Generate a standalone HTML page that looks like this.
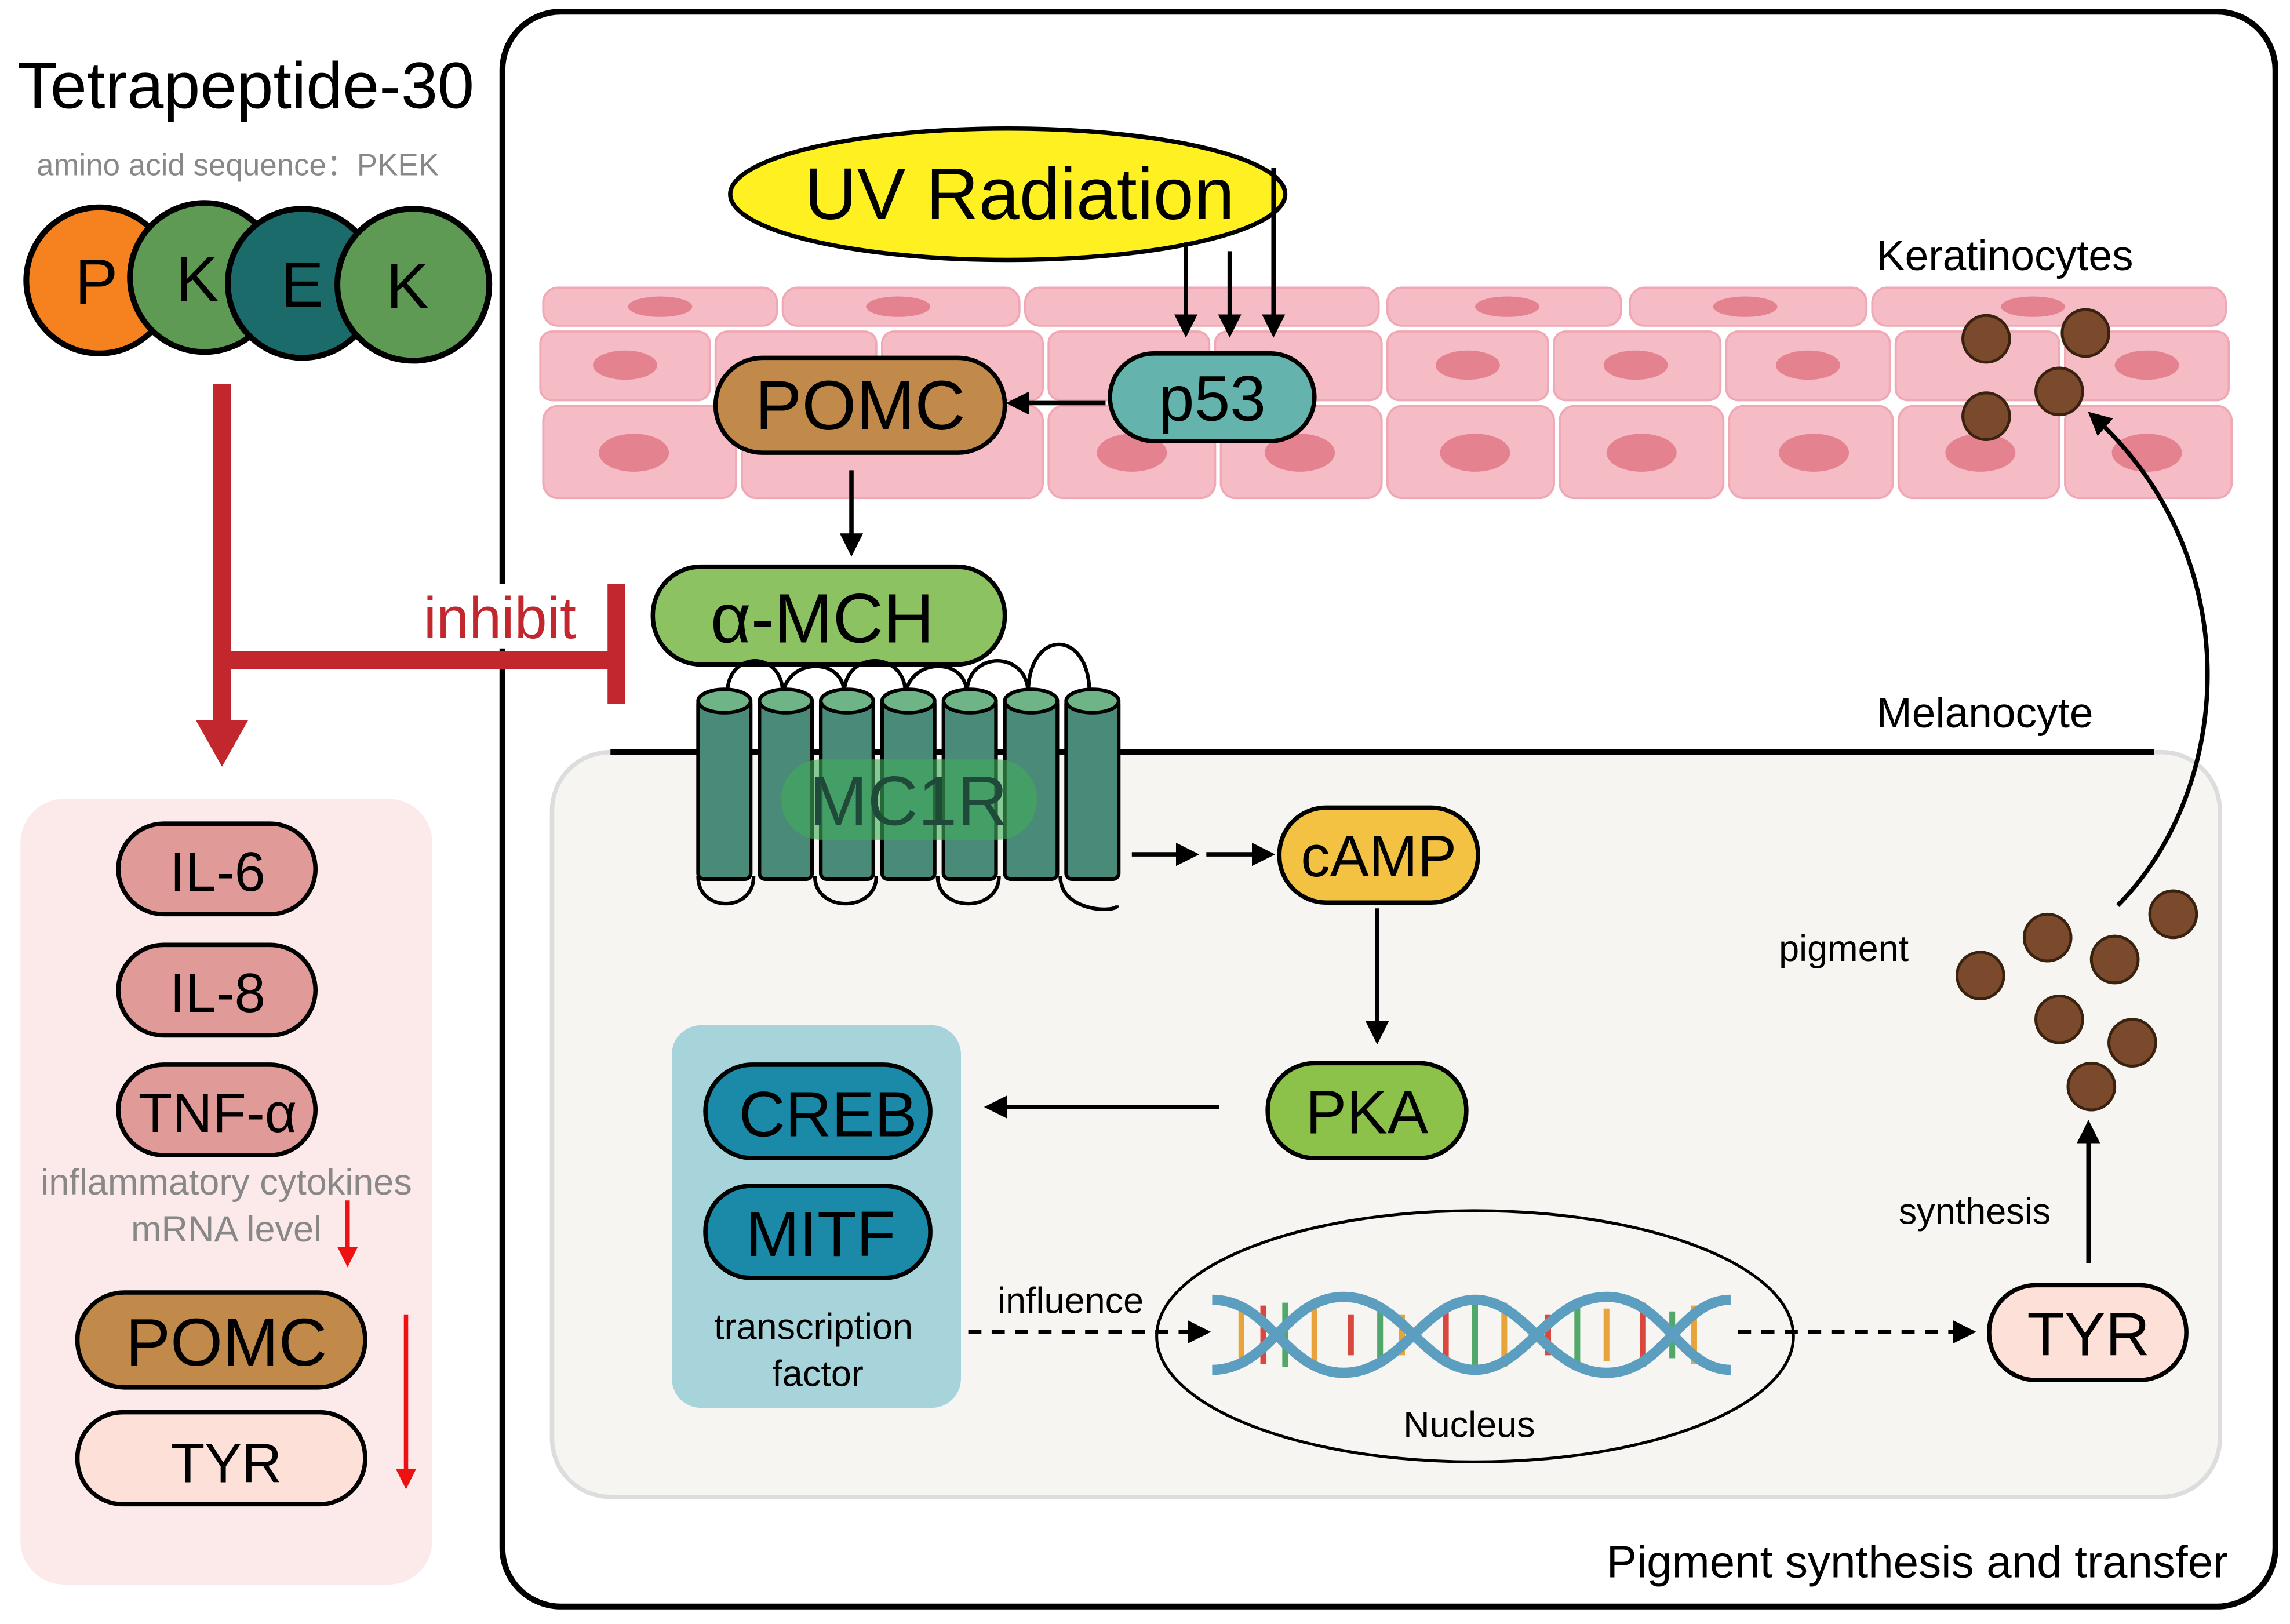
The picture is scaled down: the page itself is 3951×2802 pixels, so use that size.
<!DOCTYPE html>
<html><head><meta charset="utf-8"><style>
html,body{margin:0;padding:0;background:#fff}
svg{display:block}
text{font-family:"Liberation Sans",Arial,sans-serif}
</style></head><body>
<svg width="3951" height="2802" viewBox="0 0 1568 1112" xmlns="http://www.w3.org/2000/svg">
<defs>
<marker id="abk" viewBox="0 0 10 10" markerWidth="16" markerHeight="16" refX="8" refY="5" orient="auto" markerUnits="userSpaceOnUse"><path d="M0,0 L10,5 L0,10 Z" fill="#000"/></marker>
<marker id="ar" viewBox="0 0 10 10" markerWidth="14" markerHeight="14" refX="8" refY="5" orient="auto" markerUnits="userSpaceOnUse"><path d="M0,0 L10,5 L0,10 Z" fill="#e11"/></marker>
</defs>
<rect width="1568" height="1112" fill="#fff"/>
<text x="12" y="74" font-size="45">Tetrapeptide-30</text>
<text x="25" y="120" font-size="21" fill="#888">amino acid sequence：PKEK</text>
<g stroke="#000" stroke-width="4">
<circle cx="68" cy="192" r="50" fill="#f5821f"/>
<circle cx="140" cy="190" r="51" fill="#5f9a55"/>
<circle cx="207" cy="194" r="51" fill="#1c6b6b"/>
<circle cx="283" cy="195" r="52" fill="#5f9a55"/>
</g>
<g font-size="44" text-anchor="middle"><text x="66" y="208">P</text><text x="135" y="206">K</text><text x="207" y="210">E</text><text x="279" y="211">K</text></g>
<rect x="14" y="547" width="282" height="538" rx="30" fill="#fce9e9"/>
<g stroke="#000" stroke-width="3" fill="#e09a98">
<rect x="81" y="564" width="135" height="62" rx="31"/>
<rect x="81" y="647" width="135" height="62" rx="31"/>
<rect x="81" y="729" width="135" height="62" rx="31"/>
<rect x="53" y="885" width="197" height="65" rx="32" fill="#c28a4a"/>
<rect x="53" y="967" width="197" height="63" rx="31" fill="#fde0d8"/>
</g>
<g font-size="38" text-anchor="middle"><text x="149" y="610">IL-6</text><text x="149" y="693">IL-8</text><text x="149" y="775">TNF-α</text>
<text x="155" y="935" font-size="46">POMC</text><text x="155" y="1015">TYR</text></g>
<text x="155" y="818" font-size="25" fill="#888" text-anchor="middle">inflammatory cytokines</text>
<text x="155" y="850" font-size="25" fill="#888" text-anchor="middle">mRNA level</text>
<line x1="238" y1="822" x2="238" y2="865" stroke="#e11" stroke-width="3" marker-end="url(#ar)"/>
<line x1="278" y1="900" x2="278" y2="1017" stroke="#e11" stroke-width="3" marker-end="url(#ar)"/>
<rect x="344" y="8" width="1214" height="1092" rx="40" fill="#fff" stroke="#000" stroke-width="4"/>
<rect x="288" y="400" width="124" height="44" fill="#fff"/>
<g stroke="#c1272d" stroke-width="12" fill="none">
<line x1="152" y1="263" x2="152" y2="495"/>
<line x1="152" y1="452" x2="422" y2="452"/>
<line x1="422" y1="400" x2="422" y2="482"/>
</g>
<path d="M134,493 L170,493 L152,525 Z" fill="#c1272d"/>
<text x="290" y="437" font-size="40" fill="#c1272d">inhibit</text>
<g fill="#f6bcc6" stroke="#f0a8b4" stroke-width="1.5">
<rect x="372" y="197" width="160" height="26" rx="10"/><rect x="536" y="197" width="162" height="26" rx="10"/><rect x="702" y="197" width="242" height="26" rx="10"/><rect x="950" y="197" width="160" height="26" rx="10"/><rect x="1116" y="197" width="162" height="26" rx="10"/><rect x="1282" y="197" width="242" height="26" rx="10"/>
<rect x="370" y="227" width="116" height="47" rx="8"/><rect x="490" y="227" width="110" height="47" rx="8"/><rect x="604" y="227" width="110" height="47" rx="8"/><rect x="718" y="227" width="110" height="47" rx="8"/><rect x="832" y="227" width="114" height="47" rx="8"/><rect x="950" y="227" width="110" height="47" rx="8"/><rect x="1064" y="227" width="114" height="47" rx="8"/><rect x="1182" y="227" width="112" height="47" rx="8"/><rect x="1298" y="227" width="112" height="47" rx="8"/><rect x="1414" y="227" width="112" height="47" rx="8"/>
<rect x="372" y="278" width="132" height="63" rx="10"/><rect x="508" y="278" width="206" height="63" rx="10"/><rect x="718" y="278" width="114" height="63" rx="10"/><rect x="836" y="278" width="110" height="63" rx="10"/><rect x="950" y="278" width="114" height="63" rx="10"/><rect x="1068" y="278" width="112" height="63" rx="10"/><rect x="1184" y="278" width="112" height="63" rx="10"/><rect x="1300" y="278" width="110" height="63" rx="10"/><rect x="1414" y="278" width="114" height="63" rx="10"/>
</g>
<g fill="#e48290">
<ellipse cx="452" cy="210" rx="22" ry="7"/><ellipse cx="615" cy="210" rx="22" ry="7"/><ellipse cx="1032" cy="210" rx="22" ry="7"/><ellipse cx="1195" cy="210" rx="22" ry="7"/><ellipse cx="1392" cy="210" rx="22" ry="7"/>
<ellipse cx="428" cy="250" rx="22" ry="10"/><ellipse cx="1005" cy="250" rx="22" ry="10"/><ellipse cx="1120" cy="250" rx="22" ry="10"/><ellipse cx="1238" cy="250" rx="22" ry="10"/><ellipse cx="1470" cy="250" rx="22" ry="10"/>
<ellipse cx="434" cy="310" rx="24" ry="13"/><ellipse cx="775" cy="310" rx="24" ry="13"/><ellipse cx="890" cy="310" rx="24" ry="13"/><ellipse cx="1010" cy="310" rx="24" ry="13"/><ellipse cx="1124" cy="310" rx="24" ry="13"/><ellipse cx="1242" cy="310" rx="24" ry="13"/><ellipse cx="1356" cy="310" rx="24" ry="13"/><ellipse cx="1470" cy="310" rx="24" ry="13"/>
</g>
<g fill="#7b4a2c" stroke="#3a2210" stroke-width="2">
<circle cx="1360" cy="232" r="16"/><circle cx="1428" cy="228" r="16"/><circle cx="1360" cy="285" r="16"/><circle cx="1410" cy="268" r="16"/>
</g>
<text x="1285" y="185" font-size="29">Keratinocytes</text>
<ellipse cx="690" cy="133" rx="190" ry="45" fill="#fff022" stroke="#000" stroke-width="3"/>
<text x="698" y="150" font-size="50" text-anchor="middle">UV Radiation</text>
<g stroke="#000" stroke-width="3"><line x1="812" y1="166" x2="812" y2="228" marker-end="url(#abk)"/><line x1="842" y1="172" x2="842" y2="228" marker-end="url(#abk)"/><line x1="872" y1="115" x2="872" y2="228" marker-end="url(#abk)"/></g>
<rect x="760" y="242" width="140" height="60" rx="30" fill="#64b3ac" stroke="#000" stroke-width="3"/>
<text x="830" y="288" font-size="44" text-anchor="middle">p53</text>
<rect x="490" y="245" width="198" height="65" rx="32" fill="#c28a4a" stroke="#000" stroke-width="3"/>
<text x="589" y="294" font-size="48" text-anchor="middle">POMC</text>
<line x1="757" y1="276" x2="692" y2="276" stroke="#000" stroke-width="3" marker-end="url(#abk)"/>
<line x1="583" y1="322" x2="583" y2="378" stroke="#000" stroke-width="3" marker-end="url(#abk)"/>
<rect x="447" y="388" width="241" height="67" rx="33" fill="#8dc262" stroke="#000" stroke-width="3"/>
<text x="563" y="440" font-size="48" text-anchor="middle">α-MCH</text>
<rect x="378" y="515" width="1142" height="510" rx="40" fill="#f6f5f2" stroke="#ddd" stroke-width="3"/>
<line x1="418" y1="515" x2="1475" y2="515" stroke="#000" stroke-width="4"/>
<text x="1285" y="498" font-size="29">Melanocyte</text>
<g fill="none" stroke="#000" stroke-width="2.5">
<path d="M498,475 C498,445 536,445 536,475 M578,475 C578,445 620,445 620,475 M662,475 C662,445 704,445 704,475 M746,475 C746,430 704,430 704,475"/>
<path d="M536,475 C540,450 578,450 578,475 M620,475 C624,450 662,450 662,475"/>
<path d="M478,600 C478,625 516,625 516,600 M558,600 C558,625 600,625 600,600 M642,600 C642,625 684,625 684,600 M726,600 C726,625 765,625 765,620"/>
</g>
<g fill="#4a8a78" stroke="#000" stroke-width="2.5">
<rect x="478" y="478" width="36" height="124" rx="4"/><rect x="520" y="478" width="36" height="124" rx="4"/><rect x="562" y="478" width="36" height="124" rx="4"/><rect x="604" y="478" width="36" height="124" rx="4"/><rect x="646" y="478" width="36" height="124" rx="4"/><rect x="688" y="478" width="36" height="124" rx="4"/><rect x="730" y="478" width="36" height="124" rx="4"/>
</g>
<g fill="#6fb486" stroke="#000" stroke-width="2.5">
<ellipse cx="496" cy="480" rx="18" ry="8"/><ellipse cx="538" cy="480" rx="18" ry="8"/><ellipse cx="580" cy="480" rx="18" ry="8"/><ellipse cx="622" cy="480" rx="18" ry="8"/><ellipse cx="664" cy="480" rx="18" ry="8"/><ellipse cx="706" cy="480" rx="18" ry="8"/><ellipse cx="748" cy="480" rx="18" ry="8"/>
</g>
<rect x="535" y="520" width="175" height="55" rx="27" fill="#3fae5a" opacity="0.6"/>
<text x="622" y="565" font-size="48" text-anchor="middle" fill="#1f4a3a">MC1R</text>
<g stroke="#000" stroke-width="3"><line x1="775" y1="585" x2="818" y2="585" marker-end="url(#abk)"/><line x1="826" y1="585" x2="870" y2="585" marker-end="url(#abk)"/></g>
<rect x="876" y="553" width="136" height="65" rx="32" fill="#f4c242" stroke="#000" stroke-width="3"/>
<text x="944" y="600" font-size="40" text-anchor="middle">cAMP</text>
<line x1="943" y1="622" x2="943" y2="712" stroke="#000" stroke-width="3" marker-end="url(#abk)"/>
<rect x="868" y="728" width="136" height="65" rx="32" fill="#8dc24a" stroke="#000" stroke-width="3"/>
<text x="936" y="776" font-size="42" text-anchor="middle">PKA</text>
<line x1="835" y1="758" x2="677" y2="758" stroke="#000" stroke-width="3" marker-end="url(#abk)"/>
<rect x="460" y="702" width="198" height="262" rx="20" fill="#a6d4da"/>
<rect x="483" y="729" width="154" height="64" rx="32" fill="#1a8aa8" stroke="#000" stroke-width="3"/>
<rect x="483" y="812" width="154" height="63" rx="31" fill="#1a8aa8" stroke="#000" stroke-width="3"/>
<text x="567" y="778" font-size="44" text-anchor="middle">CREB</text>
<text x="562" y="860" font-size="44" text-anchor="middle">MITF</text>
<text x="557" y="917" font-size="25" text-anchor="middle">transcription</text>
<text x="560" y="949" font-size="25" text-anchor="middle">factor</text>
<text x="683" y="899" font-size="25">influence</text>
<line x1="663" y1="912" x2="826" y2="912" stroke="#000" stroke-width="3" stroke-dasharray="9,7" marker-end="url(#abk)"/>
<ellipse cx="1010" cy="915" rx="218" ry="86" fill="none" stroke="#000" stroke-width="2"/>
<g stroke-width="4">
<g stroke="#e8a33b"><line x1="850" y1="898" x2="850" y2="930"/><line x1="900" y1="892" x2="900" y2="936"/><line x1="960" y1="900" x2="960" y2="928"/><line x1="1030" y1="892" x2="1030" y2="936"/><line x1="1100" y1="896" x2="1100" y2="932"/><line x1="1160" y1="894" x2="1160" y2="934"/></g>
<g stroke="#d9473f"><line x1="865" y1="894" x2="865" y2="934"/><line x1="925" y1="900" x2="925" y2="928"/><line x1="990" y1="893" x2="990" y2="935"/><line x1="1060" y1="900" x2="1060" y2="928"/><line x1="1125" y1="892" x2="1125" y2="936"/></g>
<g stroke="#52a86a"><line x1="880" y1="892" x2="880" y2="936"/><line x1="945" y1="896" x2="945" y2="932"/><line x1="1010" y1="892" x2="1010" y2="936"/><line x1="1080" y1="893" x2="1080" y2="935"/><line x1="1145" y1="898" x2="1145" y2="930"/></g>
</g>
<g fill="none" stroke="#5b9ec0" stroke-width="7">
<path d="M830,890 C870,890 880,940 920,940 S975,890 1010,890 S1060,940 1100,940 S1150,890 1185,890"/>
<path d="M830,938 C870,938 880,888 920,888 S975,938 1010,938 S1060,888 1100,888 S1150,938 1185,938"/>
</g>
<text x="1006" y="984" font-size="25" text-anchor="middle">Nucleus</text>
<line x1="1190" y1="912" x2="1350" y2="912" stroke="#000" stroke-width="3" stroke-dasharray="9,7" marker-end="url(#abk)"/>
<rect x="1362" y="880" width="135" height="65" rx="32" fill="#fde0d8" stroke="#000" stroke-width="3"/>
<text x="1430" y="928" font-size="42" text-anchor="middle">TYR</text>
<line x1="1430" y1="865" x2="1430" y2="770" stroke="#000" stroke-width="3" marker-end="url(#abk)"/>
<text x="1300" y="838" font-size="25">synthesis</text>
<text x="1218" y="658" font-size="25">pigment</text>
<g fill="#7b4a2c" stroke="#3a2210" stroke-width="2">
<circle cx="1356" cy="668" r="16"/><circle cx="1402" cy="642" r="16"/><circle cx="1448" cy="657" r="16"/><circle cx="1488" cy="626" r="16"/><circle cx="1410" cy="698" r="16"/><circle cx="1460" cy="714" r="16"/><circle cx="1432" cy="744" r="16"/>
</g>
<path d="M1450,620 C1530,540 1540,380 1432,284" fill="none" stroke="#000" stroke-width="3" marker-end="url(#abk)"/>
<text x="1100" y="1080" font-size="31">Pigment synthesis and transfer</text>
</svg>
</body></html>
